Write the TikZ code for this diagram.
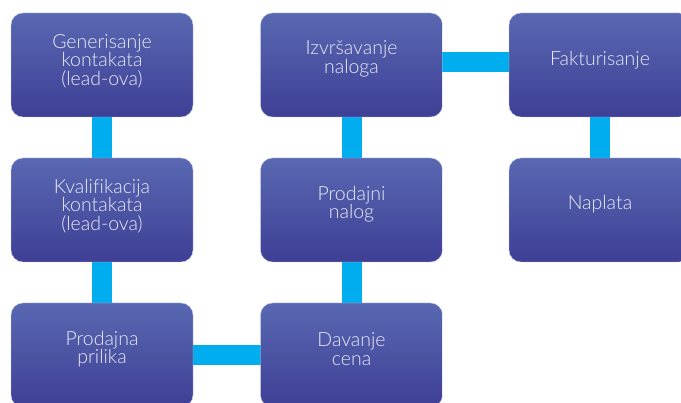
\documentclass[tikz,border=0pt]{standalone}
\usepackage{fontspec}
\setmainfont{Lato Light}[Ligatures=NoCommon]
\usetikzlibrary{backgrounds}
\definecolor{boxtop}{RGB}{89,104,178}
\definecolor{boxbot}{RGB}{62,63,149}
\definecolor{linkc}{RGB}{0,174,239}
\definecolor{boxtext}{RGB}{236,236,246}
\tikzset{
  stage/.style={rounded corners=12pt, minimum width=182pt, minimum height=104pt,
    top color=boxtop, bottom color=boxbot, draw=boxtop!40!white, line width=0.4pt,
    text=boxtext, align=center, inner sep=0pt},
  label/.style={text=boxtext, align=center, font=\fontsize{19.5}{18.5}\selectfont},
  link/.style={draw=linkc, line width=20pt}
}
\begin{document}
\begin{tikzpicture}[x=1pt,y=-1pt]
  \useasboundingbox (0,0) rectangle (681,403);
  \clip (0,0) rectangle (681,403);
  % process stages
  \node[stage] (gen) at (102,65) {};
  \node[stage] (kval) at (102,210) {};
  \node[stage] (prilika) at (102,355) {};
  \node[stage] (izvr) at (351.5,65) {};
  \node[stage] (nalog) at (351.5,210) {};
  \node[stage] (cena) at (351.5,355) {};
  \node[stage] (fakt) at (600,65) {};
  \node[stage] (naplata) at (600,210) {};
  % stage captions, set a little above the box centres
  \node[label] at ([yshift=4pt]gen.center) {Generisanje\\kontakata\\(lead-ova)};
  \node[label] at ([yshift=4pt]kval.center) {Kvalifikacija\\kontakata\\(lead-ova)};
  \node[label] at ([yshift=6pt]prilika.center) {Prodajna\\prilika};
  \node[label] at ([yshift=6pt]izvr.center) {Izvršavanje\\naloga};
  \node[label] at ([yshift=6pt]nalog.center) {Prodajni\\nalog};
  \node[label] at ([yshift=6pt]cena.center) {Davanje\\cena};
  \node[label] at ([yshift=5pt]fakt.center) {Fakturisanje};
  \node[label] at ([yshift=6pt]naplata.center) {Naplata};
  % connecting bars behind the boxes
  \begin{pgfonlayer}{background}
    \draw[link] (gen.center) -- (kval.center);
    \draw[link] (kval.center) -- (prilika.center);
    \draw[link] (prilika.center) -- (cena.center);
    \draw[link] (cena.center) -- (nalog.center);
    \draw[link] (nalog.center) -- (izvr.center);
    \draw[link] ([yshift=3pt]izvr.center) -- ([yshift=3pt]fakt.center);
    \draw[link] (fakt.center) -- (naplata.center);
  \end{pgfonlayer}
\end{tikzpicture}
\end{document}
